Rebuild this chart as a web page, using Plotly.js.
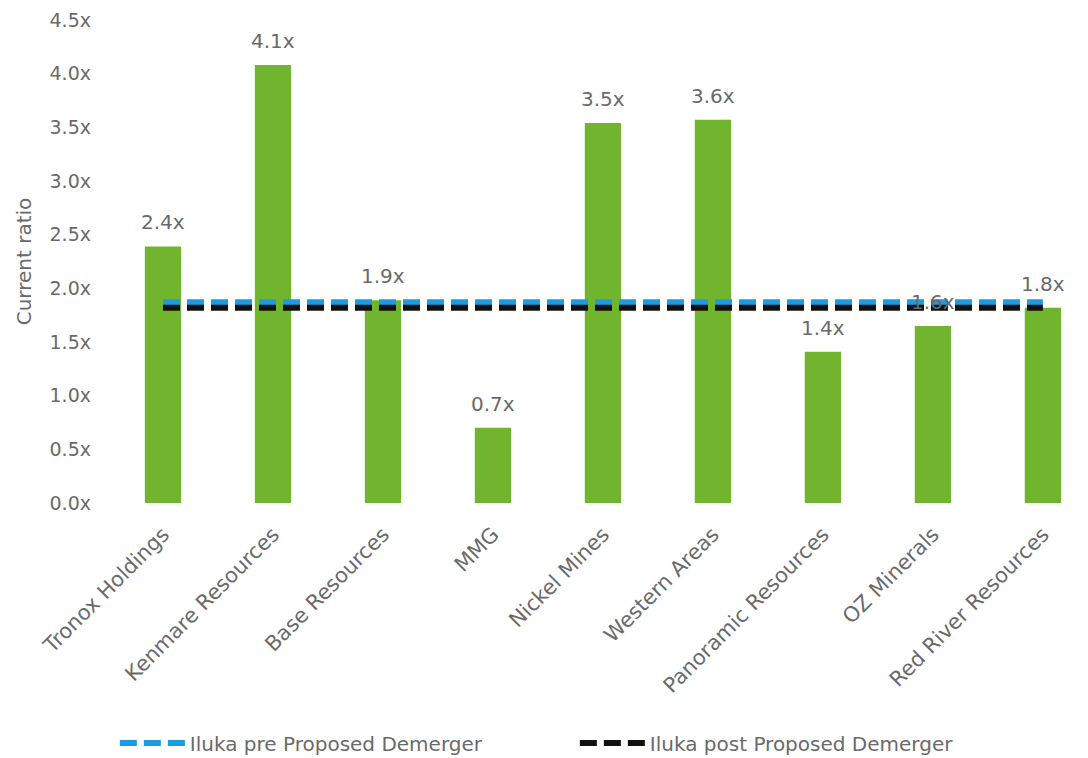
<!DOCTYPE html>
<html>
<head>
<meta charset="utf-8">
<script src="https://cdn.plot.ly/plotly-3.0.1.min.js"></script>
<style>html,body{margin:0;padding:0;background:#fff;}#chart{width:1088px;height:758px;}</style>
</head>
<body>
<div id="chart"></div>
<script>
const categories = ["Tronox Holdings","Kenmare Resources","Base Resources","MMG","Nickel Mines","Western Areas","Panoramic Resources","OZ Minerals","Red River Resources"];
const currentRatio = [2.39, 4.08, 1.89, 0.70, 3.54, 3.57, 1.41, 1.65, 1.82];
const barLabels = ["2.4x","4.1x","1.9x","0.7x","3.5x","3.6x","1.4x","1.6x","1.8x"];
const ilukaPre = 1.87;
const ilukaPost = 1.82;
const yTickVals = [0,0.5,1,1.5,2,2.5,3,3.5,4,4.5];
const yTickText = ["0.0x","0.5x","1.0x","1.5x","2.0x","2.5x","3.0x","3.5x","4.0x","4.5x"];

const gray = "#6a6a6a";
const font = "DejaVu Sans, Verdana, sans-serif";

const traces = [
  {
    type: "bar", x: categories, y: currentRatio,
    marker: {color: "#71b52e", line: {width: 0}},
    width: 0.33, showlegend: false, hoverinfo: "skip"
  },
  {
    type: "scatter", mode: "lines", x: categories, y: categories.map(() => ilukaPre),
    name: "Iluka pre Proposed Demerger",
    line: {color: "#1e9be0", width: 6, dash: "17px,7px"}
  },
  {
    type: "scatter", mode: "lines", x: categories, y: categories.map(() => ilukaPost),
    name: "Iluka post Proposed Demerger",
    line: {color: "#111111", width: 6, dash: "17px,7px"}
  }
];

const annotations = categories.map((c, i) => ({
  x: c, y: currentRatio[i], xref: "x", yref: "y", text: barLabels[i],
  showarrow: false, yanchor: "bottom", yshift: 10,
  font: {family: font, size: 20, color: gray}
}));

const layout = {
  width: 1088, height: 758,
  margin: {l: 108, r: 0, t: 20, b: 255, autoexpand: false},
  paper_bgcolor: "#fff", plot_bgcolor: "#fff",
  font: {family: font, color: gray, size: 14},
  annotations: annotations,
  xaxis: {
    range: [-0.5, 8.41], tickangle: -45, showgrid: false, zeroline: false,
    showline: false, ticks: "", automargin: false, ticklabelstandoff: 14,
    tickfont: {family: font, size: 21, color: gray}
  },
  yaxis: {
    range: [0, 4.5], tickvals: yTickVals, ticktext: yTickText,
    showgrid: false, zeroline: false, showline: false, ticks: "", automargin: false,
    ticklabelstandoff: 16,
    tickfont: {family: font, size: 19, color: gray},
    title: {text: "Current ratio", font: {family: font, size: 20, color: gray}, standoff: 12}
  },
  legend: {
    orientation: "h", x: 0.007, xanchor: "left", y: -0.497, yanchor: "middle",
    entrywidth: 380, entrywidthmode: "pixels", itemwidth: 65,
    font: {family: font, size: 20, color: gray}
  },
  showlegend: true
};

Plotly.newPlot("chart", traces, layout, {displayModeBar: false, staticPlot: true});
</script>
</body>
</html>
